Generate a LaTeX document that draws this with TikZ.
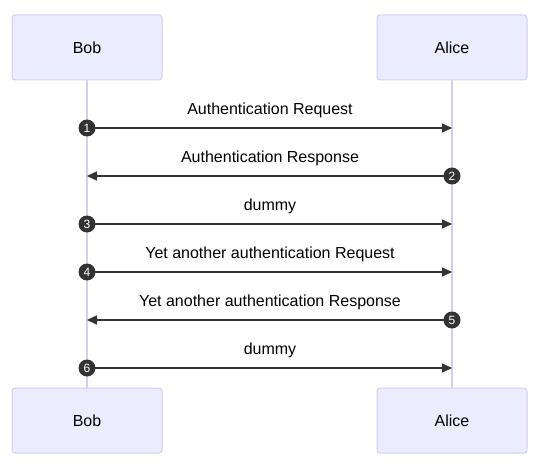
\documentclass[tikz,border=0pt]{standalone}
\usepackage{fontspec}
\setmainfont{Liberation Sans}
\usetikzlibrary{arrows.meta}
\definecolor{actfill}{HTML}{ECECFF}
\definecolor{actline}{HTML}{D6CCF0}
\definecolor{msgline}{HTML}{333333}
\begin{document}
\begin{tikzpicture}[x=1pt,y=-1pt,
  actor/.style={draw=actline,fill=actfill,line width=1pt,rounded corners=3pt,minimum width=150pt,minimum height=65pt,font=\fontsize{16}{19}\selectfont,inner sep=0pt},
  msg/.style={draw=msgline,line width=1.5pt,-{Triangle[length=10pt,width=9pt]}},
  num/.style={circle,fill=msgline,text=white,inner sep=0pt,minimum size=17pt,font=\fontsize{12}{13}\selectfont},
  lbl/.style={font=\fontsize{16}{19}\selectfont,inner sep=0pt}]
\useasboundingbox (0,0) rectangle (540,465);
\node[actor] (bobT) at (87,47.5) {Bob};
\node[actor] (aliceT) at (452,47.5) {Alice};
\node[actor] (bobB) at (87,420.5) {Bob};
\node[actor] (aliceB) at (452,420.5) {Alice};
\draw[actline,line width=1.5pt] (bobT.south) -- (bobB.north);
\draw[actline,line width=1.5pt] (aliceT.south) -- (aliceB.north);
% lifeline coordinates
\foreach \i/\y in {1/128,2/176,3/224,4/272,5/320,6/368}{
  \coordinate (b\i) at (87,\y);
  \coordinate (a\i) at (452,\y);
}
\draw[msg] (b1) -- (a1);
\draw[msg] (a2) -- (b2);
\draw[msg] (b3) -- (a3);
\draw[msg] (b4) -- (a4);
\draw[msg] (a5) -- (b5);
\draw[msg] (b6) -- (a6);
\node[num] (n1) at (b1) {1};
\node[num] (n2) at (a2) {2};
\node[num] (n3) at (b3) {3};
\node[num] (n4) at (b4) {4};
\node[num] (n5) at (a5) {5};
\node[num] (n6) at (b6) {6};
\node[lbl] (l1) at (270,110) {Authentication Request};
\node[lbl] (l2) at (270,158) {Authentication Response};
\node[lbl] (l3) at (270,206) {dummy};
\node[lbl] (l4) at (270,254) {Yet another authentication Request};
\node[lbl] (l5) at (270,302) {Yet another authentication Response};
\node[lbl] (l6) at (270,350) {dummy};
\end{tikzpicture}
\end{document}
